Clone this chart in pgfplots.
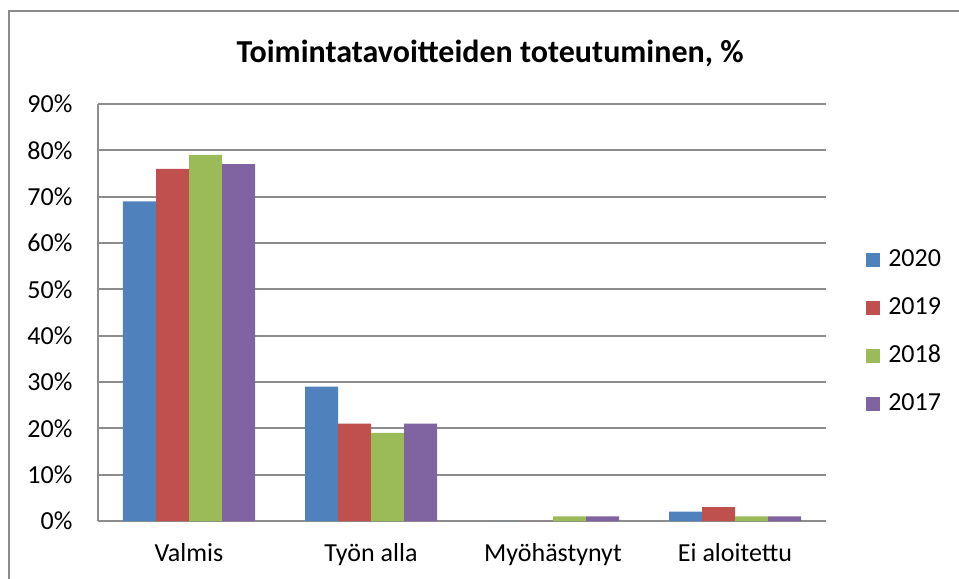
\documentclass[border=0pt]{standalone}
\usepackage{fontspec}
\setmainfont{Carlito}
\usepackage{pgfplots}
\pgfplotsset{compat=1.18}
\definecolor{c2020}{HTML}{4F81BD}
\definecolor{c2019}{HTML}{C0504D}
\definecolor{c2018}{HTML}{9BBB59}
\definecolor{c2017}{HTML}{8064A2}
\definecolor{gridc}{HTML}{8C8C8C}
\begin{document}
\begin{tikzpicture}
\useasboundingbox (0,0) rectangle (719.25pt,433.5pt);
\draw[gridc,line width=1.5pt] (6.75pt,-2pt) -- (6.75pt,425.25pt) -- (722pt,425.25pt);
\node[anchor=base,font=\fontsize{24}{28}\selectfont\bfseries] at (367.5pt,386.25pt) {Toimintatavoitteiden toteutuminen, \%};
\begin{axis}[
  at={(73.5pt,42.75pt)}, anchor=south west,
  scale only axis, width=546pt, height=312.75pt,
  ybar=0pt, bar width=24.75pt,
  xmin=-0.5, xmax=3.5, ymin=0, ymax=90,
  xtick={0,1,2,3},
  xticklabels={Valmis,Työn alla,Myöhästynyt,Ei aloitettu},
  ytick={0,10,...,90},
  yticklabel={\pgfmathprintnumber[assume math mode=true]{\tick}\%},
  major tick length=0pt,
  axis x line*=bottom, axis y line*=left,
  axis line style={gridc,line width=1.4pt},
  ymajorgrids, grid style={gridc,line width=1.4pt},
  tick label style={font=\fontsize{19.5}{22}\selectfont, text=black},
  yticklabel style={inner sep=0pt, xshift=-19pt},
  xticklabel style={inner sep=0pt, yshift=-17pt},
  legend style={draw=none, at={(1.055,0.453)}, anchor=west, font=\fontsize{19.5}{22}\selectfont, row sep=18pt, inner sep=0pt,
    nodes={inner sep=0pt, text height=14pt, text depth=4pt}},
  legend cell align=left,
  legend image code/.code={\fill[#1] (0pt,-5.25pt) rectangle (10.5pt,5.25pt); \path (16.5pt,0pt);},
  every axis plot/.append style={draw=none},
]
\addplot[fill=c2020] coordinates {(0,69) (1,29) (2,0) (3,2)};
\addplot[fill=c2019] coordinates {(0,76) (1,21) (2,0) (3,3)};
\addplot[fill=c2018] coordinates {(0,79) (1,19) (2,1) (3,1)};
\addplot[fill=c2017] coordinates {(0,77) (1,21) (2,1) (3,1)};
\legend{2020,2019,2018,2017}
\end{axis}
\end{tikzpicture}
\end{document}
